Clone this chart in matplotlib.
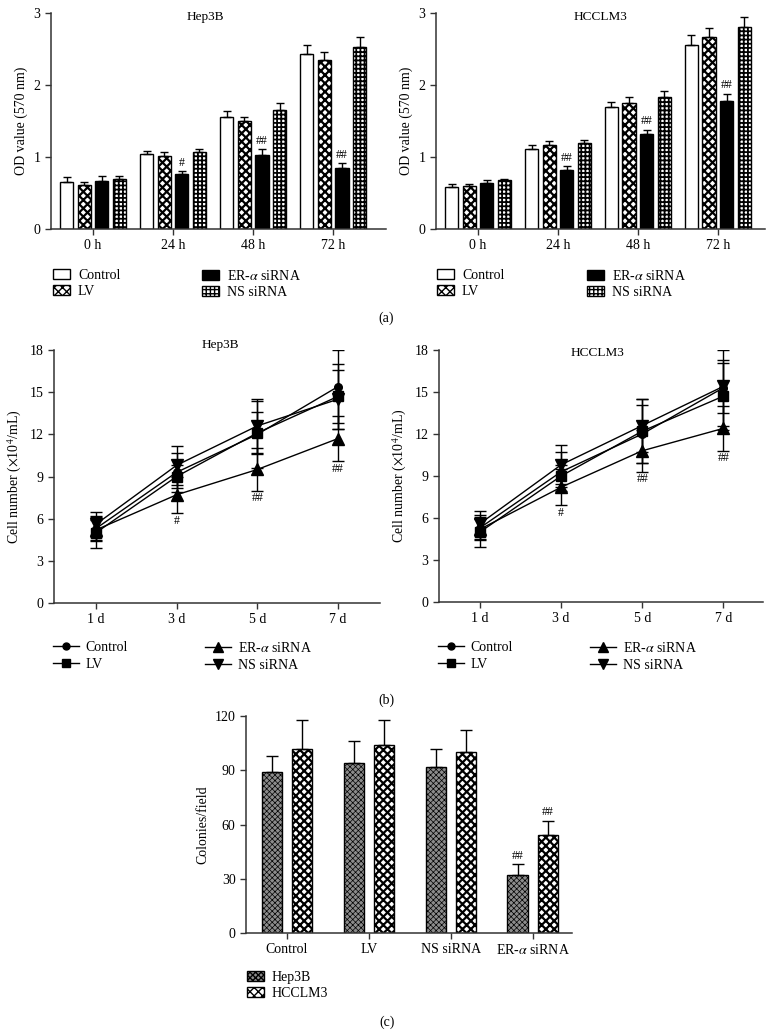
import numpy as np
import matplotlib
matplotlib.use("Agg")
import matplotlib.pyplot as plt
from matplotlib.patches import Patch
from matplotlib.lines import Line2D

plt.rcParams["font.family"] = ["Liberation Serif", "DejaVu Serif"]
plt.rcParams["mathtext.fontset"] = "stix"
plt.rcParams["font.size"] = 9.5

# ---- data -------------------------------------------------------------
groups = ["Control", "LV", "ER-$\\alpha$ siRNA", "NS siRNA"]
hours = ["0 h", "24 h", "48 h", "72 h"]
days = ["1 d", "3 d", "5 d", "7 d"]

# (a) MTT, OD value (570 nm); rows = groups, cols = time
od_hep3b = [[0.65, 1.04, 1.56, 2.43],
            [0.61, 1.02, 1.50, 2.35],
            [0.67, 0.76, 1.03, 0.85],
            [0.70, 1.07, 1.65, 2.53]]
od_hep3b_err = [[0.07, 0.04, 0.08, 0.13],
                [0.04, 0.05, 0.06, 0.11],
                [0.06, 0.05, 0.08, 0.06],
                [0.04, 0.04, 0.10, 0.14]]
od_hcclm3 = [[0.58, 1.11, 1.70, 2.56],
             [0.60, 1.17, 1.75, 2.67],
             [0.64, 0.82, 1.32, 1.78],
             [0.68, 1.20, 1.83, 2.80]]
od_hcclm3_err = [[0.05, 0.05, 0.06, 0.13],
                 [0.03, 0.05, 0.09, 0.12],
                 [0.04, 0.05, 0.06, 0.10],
                 [0.02, 0.04, 0.08, 0.14]]
od_hep3b_marks = ["", "#", "##", "##"]
od_hcclm3_marks = ["", "##", "##", "##"]

# (b) cell counts (x10^4/mL)
cell_hep3b = [[5.3, 9.3, 12.0, 15.4],
              [5.0, 9.0, 12.1, 14.7],
              [5.2, 7.7, 9.5, 11.7],
              [5.6, 9.8, 12.6, 14.5]]
cell_hep3b_err = [[0.9, 1.4, 2.4, 2.6],
                  [1.1, 0.8, 1.5, 2.3],
                  [0.7, 1.3, 1.5, 1.6],
                  [0.9, 1.4, 1.9, 2.1]]
cell_hcclm3 = [[5.3, 9.3, 12.0, 15.3],
               [5.0, 9.0, 12.2, 14.7],
               [5.2, 8.2, 10.8, 12.4],
               [5.6, 9.8, 12.6, 15.4]]
cell_hcclm3_err = [[0.9, 1.4, 2.1, 2.7],
                   [1.1, 0.8, 2.3, 2.4],
                   [0.7, 1.3, 1.5, 1.6],
                   [0.9, 1.4, 1.9, 1.9]]
cell_hep3b_marks = ["", "#", "##", "##"]
cell_hcclm3_marks = ["", "#", "##", "##"]

# (c) colony formation
colony_groups = ["Control", "LV", "NS siRNA", "ER-$\\alpha$ siRNA"]
colony_hep3b = [89, 94, 92, 32]
colony_hep3b_err = [9, 12, 10, 6]
colony_hcclm3 = [102, 104, 100, 54]
colony_hcclm3_err = [16, 14, 12, 8]
colony_marks = ["", "", "", "##"]

# ---- layout -----------------------------------------------------------
W, H = 772, 1036
fig = plt.figure(figsize=(W / 100, H / 100), dpi=100)
AX_COLOR = "#333333"


def add_ax(l, r, t, b):
    ax = fig.add_axes([l / W, 1 - b / H, (r - l) / W, (b - t) / H])
    for s in ("top", "right"):
        ax.spines[s].set_visible(False)
    for s in ("left", "bottom"):
        ax.spines[s].set_color(AX_COLOR)
        ax.spines[s].set_linewidth(1.1)
    ax.tick_params(colors=AX_COLOR, labelcolor="black", direction="out",
                   length=4, width=1, labelsize=10)
    return ax


def hatch_lw(patches, lw):
    for p in patches:
        if hasattr(p, "set_hatch_linewidth"):
            p.set_hatch_linewidth(lw)


def fig_legend(handles, labels, x, y, spacing=0.2, **kw):
    fig.legend(handles, labels, loc="upper left",
               bbox_to_anchor=(x / W, 1 - y / H), bbox_transform=fig.transFigure,
               frameon=False, borderpad=0, borderaxespad=0,
               labelspacing=spacing, fontsize=10, **kw)


# bar styles for (a)
bar_styles = [dict(facecolor="white", hatch=None, lw=1.0),
              dict(facecolor="white", hatch="xxxx", lw=1.6),
              dict(facecolor="black", hatch=None, lw=1.0),
              dict(facecolor="white", hatch="++++", lw=1.3)]


def od_panel(ax, vals, errs, marks, title, xlim, tx):
    x = np.arange(len(hours))
    step, width = 0.22, 0.165
    for i, st in enumerate(bar_styles):
        xs = x + (i - 1.5) * step
        bars = ax.bar(xs, vals[i], width, color=st["facecolor"],
                      edgecolor="black", linewidth=1.0, hatch=st["hatch"])
        hatch_lw(bars, st["lw"])
        ax.errorbar(xs, vals[i], yerr=[np.zeros(len(x)), errs[i]], fmt="none",
                    ecolor="black", elinewidth=1.0, capsize=3, capthick=1.0)
    er_x = x + 0.5 * step
    for xi, v, e, m in zip(er_x, vals[2], errs[2], marks):
        if m:
            ax.text(xi, v + e + 0.03, m, ha="center", va="bottom", fontsize=8.5)
    ax.set_xlim(*xlim)
    ax.set_ylim(0, 3)
    ax.set_yticks([0, 1, 2, 3])
    ax.set_xticks(x)
    ax.set_xticklabels(hours)
    ax.set_ylabel("OD value (570 nm)", fontsize=10)
    ax.text(tx, 0.98, title, transform=ax.transAxes, ha="center", va="center",
            fontsize=9.5)


def bar_handles():
    hs = []
    for st in bar_styles:
        p = Patch(facecolor=st["facecolor"], edgecolor="black",
                  hatch=st["hatch"], linewidth=1.0)
        hatch_lw([p], st["lw"])
        hs.append(p)
    return hs


ax1 = add_ax(51, 386, 13, 229)
od_panel(ax1, od_hep3b, od_hep3b_err, od_hep3b_marks, "Hep3B", (-0.525, 3.66), 0.46)
ax2 = add_ax(436, 765, 13, 229)
od_panel(ax2, od_hcclm3, od_hcclm3_err, od_hcclm3_marks, "HCCLM3", (-0.525, 3.59), 0.50)

for x0, x1 in ((53, 202), (437, 587)):
    hs = bar_handles()
    fig_legend(hs[:2], groups[:2], x0, 269, handlelength=1.25, handleheight=0.7,
               handletextpad=0.55)
    fig_legend(hs[2:], groups[2:], x1, 269, handlelength=1.25, handleheight=0.7,
               handletextpad=0.55)
fig.text(386 / W, 1 - 318 / H, "(a)", ha="center", va="center", fontsize=10)

# ---- (b) line charts ----------------------------------------------------
markers = [("o", 5.5), ("s", 6.5), ("^", 8), ("v", 8)]


def cell_panel(ax, vals, errs, marks, title, xlim, tx, ty):
    x = np.arange(len(days))
    for i, (mk, ms) in enumerate(markers):
        ax.errorbar(x, vals[i], yerr=errs[i], color="black", marker=mk,
                    markersize=ms, linewidth=1.0, elinewidth=1.0, capsize=4,
                    capthick=1.0)
    for xi, v, e, m in zip(x, vals[2], errs[2], marks):
        if m:
            ax.text(xi, v - e - 0.55, m, ha="center", va="center", fontsize=8.5)
    ax.set_xlim(*xlim)
    ax.set_ylim(0, 18)
    ax.set_yticks(np.arange(0, 19, 3))
    ax.set_xticks(x)
    ax.set_xticklabels(days)
    ax.set_ylabel("Cell number ($\\times$10$^4$/mL)", fontsize=10)
    ax.text(tx, ty, title, transform=ax.transAxes, ha="center", va="center",
            fontsize=9.5)


ax3 = add_ax(54, 380, 350, 603)
cell_panel(ax3, cell_hep3b, cell_hep3b_err, cell_hep3b_marks, "Hep3B",
           (-0.52, 3.52), 0.51, 1.02)
ax4 = add_ax(439, 763, 350, 602)
cell_panel(ax4, cell_hcclm3, cell_hcclm3_err, cell_hcclm3_marks, "HCCLM3",
           (-0.506, 3.49), 0.49, 0.99)

line_handles = [Line2D([], [], color="black", marker=mk, markersize=ms - 0.5,
                       linewidth=1.0) for mk, ms in markers]
for x0, x1 in ((53, 205), (438, 590)):
    fig_legend(line_handles[:2], groups[:2], x0, 641, spacing=0.28,
               handlelength=1.9, handletextpad=0.45)
    fig_legend(line_handles[2:], groups[2:], x1, 641, spacing=0.28,
               handlelength=1.9, handletextpad=0.45)
fig.text(386 / W, 1 - 700 / H, "(b)", ha="center", va="center", fontsize=10)

# ---- (c) colonies --------------------------------------------------------
ax5 = add_ax(246, 572, 716, 933)
xc = np.arange(len(colony_groups))
off, bw = 0.185, 0.245
b1 = ax5.bar(xc - off, colony_hep3b, bw, color="#8c8c8c", edgecolor="black",
             linewidth=1.0, hatch="xxxxxx")
hatch_lw(b1, 0.5)
b2 = ax5.bar(xc + off, colony_hcclm3, bw, color="white", edgecolor="black",
             linewidth=1.0, hatch="xxxx")
hatch_lw(b2, 1.6)
ax5.errorbar(xc - off, colony_hep3b, yerr=[np.zeros(4), colony_hep3b_err],
             fmt="none", ecolor="black", elinewidth=1.0, capsize=4, capthick=1.0)
ax5.errorbar(xc + off, colony_hcclm3, yerr=[np.zeros(4), colony_hcclm3_err],
             fmt="none", ecolor="black", elinewidth=1.0, capsize=4, capthick=1.0)
for xi, m in enumerate(colony_marks):
    if m:
        ax5.text(xi - off, colony_hep3b[xi] + colony_hep3b_err[xi] + 1.5, m,
                 ha="center", va="bottom", fontsize=8.5)
        ax5.text(xi + off, colony_hcclm3[xi] + colony_hcclm3_err[xi] + 1.5, m,
                 ha="center", va="bottom", fontsize=8.5)
ax5.set_xlim(-0.5, 3.48)
ax5.set_ylim(0, 120)
ax5.set_yticks(np.arange(0, 121, 30))
ax5.set_xticks(xc)
ax5.set_xticklabels(colony_groups)
ax5.set_ylabel("Colonies/field", fontsize=10)

h1 = Patch(facecolor="#8c8c8c", edgecolor="black", hatch="xxxxxx", linewidth=1.0)
hatch_lw([h1], 0.5)
h2 = Patch(facecolor="white", edgecolor="black", hatch="xxxx", linewidth=1.0)
hatch_lw([h2], 1.6)
fig_legend([h1, h2], ["Hep3B", "HCCLM3"], 247, 971, handlelength=1.25,
           handleheight=0.7, handletextpad=0.55)
fig.text(387 / W, 1 - 1022 / H, "(c)", ha="center", va="center", fontsize=10)

fig.savefig("out.png", dpi=100)
